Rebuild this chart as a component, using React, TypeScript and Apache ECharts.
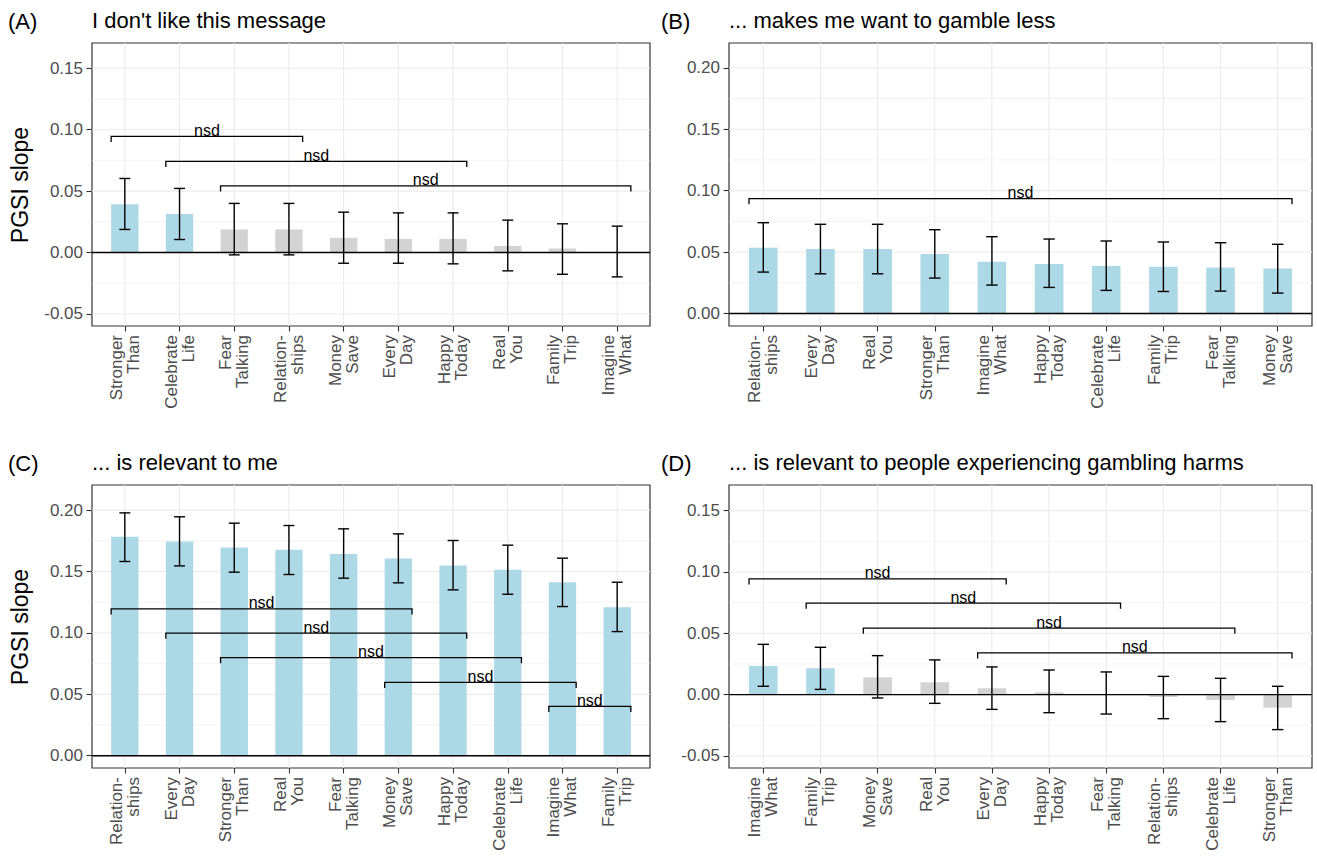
import React, { useEffect, useRef } from "react";
import * as echarts from "echarts";

// ---------- DATA ----------
const A_CATEGORIES = ["Stronger\nThan", "Celebrate\nLife", "Fear\nTalking", "Relation-\nships", "Money\nSave", "Every\nDay", "Happy\nToday", "Real\nYou", "Family\nTrip", "Imagine\nWhat"];
const A_VALUES = [0.0394, 0.0313, 0.0188, 0.0188, 0.012, 0.0111, 0.0111, 0.0054, 0.0033, 0.0];
const A_LOWER = [0.0188, 0.0106, -0.0019, -0.0019, -0.0087, -0.0087, -0.0092, -0.0149, -0.0177, -0.0198];
const A_UPPER = [0.0603, 0.0522, 0.04, 0.04, 0.0329, 0.0323, 0.0323, 0.0264, 0.0234, 0.0215];
const A_SIGNIFICANT = [true, true, false, false, false, false, false, false, false, false];
const A_BRACKETS = [[0.75, 4.25, 0.0946], [1.75, 7.25, 0.0742], [2.75, 10.25, 0.0542]];

const B_CATEGORIES = ["Relation-\nships", "Every\nDay", "Real\nYou", "Stronger\nThan", "Imagine\nWhat", "Happy\nToday", "Celebrate\nLife", "Family\nTrip", "Fear\nTalking", "Money\nSave"];
const B_VALUES = [0.0535, 0.0524, 0.0524, 0.0484, 0.0421, 0.0402, 0.0386, 0.038, 0.0375, 0.0367];
const B_LOWER = [0.0337, 0.0323, 0.0323, 0.0288, 0.0231, 0.0212, 0.0188, 0.0179, 0.0182, 0.0166];
const B_UPPER = [0.0739, 0.0726, 0.0726, 0.0682, 0.0625, 0.0606, 0.059, 0.0582, 0.0576, 0.0563];
const B_SIGNIFICANT = [true, true, true, true, true, true, true, true, true, true];
const B_BRACKETS = [[0.75, 10.25, 0.0935]];

const C_CATEGORIES = ["Relation-\nships", "Every\nDay", "Stronger\nThan", "Real\nYou", "Fear\nTalking", "Money\nSave", "Happy\nToday", "Celebrate\nLife", "Imagine\nWhat", "Family\nTrip"];
const C_VALUES = [0.1783, 0.1745, 0.1696, 0.1677, 0.1644, 0.1606, 0.1549, 0.1514, 0.1413, 0.1209];
const C_LOWER = [0.1582, 0.1546, 0.1495, 0.1476, 0.1446, 0.1408, 0.1351, 0.1315, 0.1215, 0.1011];
const C_UPPER = [0.1978, 0.1946, 0.1894, 0.1875, 0.1848, 0.1807, 0.1753, 0.1715, 0.1609, 0.1413];
const C_SIGNIFICANT = [true, true, true, true, true, true, true, true, true, true];
const C_BRACKETS = [[0.75, 6.25, 0.1196], [1.75, 7.25, 0.0998], [2.75, 8.25, 0.0799], [5.75, 9.25, 0.0598], [8.75, 10.25, 0.0402]];

const D_CATEGORIES = ["Imagine\nWhat", "Family\nTrip", "Money\nSave", "Real\nYou", "Every\nDay", "Happy\nToday", "Fear\nTalking", "Relation-\nships", "Celebrate\nLife", "Stronger\nThan"];
const D_VALUES = [0.0234, 0.0215, 0.0141, 0.0101, 0.0052, 0.0019, 0.0005, -0.0019, -0.0043, -0.0106];
const D_LOWER = [0.0068, 0.0043, -0.0027, -0.0071, -0.012, -0.0147, -0.0158, -0.0196, -0.022, -0.0285];
const D_UPPER = [0.041, 0.0386, 0.0318, 0.0283, 0.0226, 0.0201, 0.0185, 0.0149, 0.0133, 0.0068];
const D_SIGNIFICANT = [true, true, false, false, false, false, false, false, false, false];
const D_BRACKETS = [[0.75, 5.25, 0.0944], [1.75, 7.25, 0.0746], [2.75, 9.25, 0.0543], [4.75, 10.25, 0.0341]];

const TICKS_LOW = [-0.05, 0, 0.05, 0.1, 0.15];
const MINOR_LOW = [-0.025, 0.025, 0.075, 0.125];
const TICKS_HIGH = [0, 0.05, 0.1, 0.15, 0.2];
const MINOR_HIGH = [0.025, 0.075, 0.125, 0.175];

const TAGS = ["(A)", "(B)", "(C)", "(D)"];
const TITLES = ["I don't like this message", "... makes me want to gamble less", "... is relevant to me", "... is relevant to people experiencing gambling harms"];
const Y_NAME = "PGSI slope";
const BRACKET_LABEL = "nsd";

// ---------- STYLE / LAYOUT ----------
const FONT = '"Liberation Sans", Arial, Helvetica, sans-serif';
const BLUE = "#ADD8E6";
const GREY = "#D3D3D3";
const GRID_COLOR = "#EBEBEB";
const FRAME_COLOR = "#333333";
const AXIS_TEXT = "#4D4D4D";
const X_MIN = -0.6;
const X_MAX = 9.6;
const TIP = 0.0046;

const LAYOUT = [
  { left: 92, top: 43, width: 558, height: 283, yMin: -0.0598, yMax: 0.1706, tagX: 8, titleX: 92, textY: 20, nameY: 185 },
  { left: 729, top: 43, width: 583, height: 283, yMin: -0.0102, yMax: 0.2202, tagX: 661, titleX: 729, textY: 20, nameY: 0 },
  { left: 92, top: 485, width: 558, height: 283, yMin: -0.0100, yMax: 0.2205, tagX: 8, titleX: 92, textY: 462, nameY: 627 },
  { left: 729, top: 485, width: 583, height: 283, yMin: -0.0598, yMax: 0.1709, tagX: 661, titleX: 729, textY: 462, nameY: 0 },
];

const PANELS = [
  { cats: A_CATEGORIES, vals: A_VALUES, lo: A_LOWER, hi: A_UPPER, sig: A_SIGNIFICANT, brackets: A_BRACKETS, ticks: TICKS_LOW, minor: MINOR_LOW, yName: true },
  { cats: B_CATEGORIES, vals: B_VALUES, lo: B_LOWER, hi: B_UPPER, sig: B_SIGNIFICANT, brackets: B_BRACKETS, ticks: TICKS_HIGH, minor: MINOR_HIGH, yName: false },
  { cats: C_CATEGORIES, vals: C_VALUES, lo: C_LOWER, hi: C_UPPER, sig: C_SIGNIFICANT, brackets: C_BRACKETS, ticks: TICKS_HIGH, minor: MINOR_HIGH, yName: true },
  { cats: D_CATEGORIES, vals: D_VALUES, lo: D_LOWER, hi: D_UPPER, sig: D_SIGNIFICANT, brackets: D_BRACKETS, ticks: TICKS_LOW, minor: MINOR_LOW, yName: false },
];

function buildOption() {
  const grid: any[] = [];
  const xAxis: any[] = [];
  const yAxis: any[] = [];
  const series: any[] = [];
  const graphic: any[] = [];
  const idx = [0, 1, 2, 3, 4, 5, 6, 7, 8, 9];

  PANELS.forEach((p, k) => {
    const L = LAYOUT[k];
    const unit = L.width / (X_MAX - X_MIN);
    grid.push({
      left: L.left, top: L.top, width: L.width, height: L.height,
      show: true, borderColor: FRAME_COLOR, borderWidth: 1.2, backgroundColor: "transparent",
    });
    xAxis.push({
      type: "value", gridIndex: k, min: X_MIN, max: X_MAX,
      splitLine: { show: false },
      axisLine: { show: false, onZero: false },
      axisTick: { show: true, customValues: idx, length: 5.5, lineStyle: { color: FRAME_COLOR, width: 1.1 } },
      axisLabel: {
        show: true, customValues: idx, rotate: 90, margin: 9,
        formatter: (v: number) => p.cats[Math.round(v)] ?? "",
        fontSize: 17, lineHeight: 17, fontFamily: FONT, color: AXIS_TEXT,
      },
    });
    yAxis.push({
      type: "value", gridIndex: k, min: L.yMin, max: L.yMax,
      splitLine: { show: false },
      axisLine: { show: false, onZero: false },
      axisTick: { show: true, customValues: p.ticks, length: 5.5, lineStyle: { color: FRAME_COLOR, width: 1.1 } },
      axisLabel: {
        show: true, customValues: p.ticks, margin: 9,
        formatter: (v: number) => v.toFixed(2),
        fontSize: 17, fontFamily: FONT, color: AXIS_TEXT,
      },
    });

    // vertical grid lines at category centres
    series.push({
      type: "custom", xAxisIndex: k, yAxisIndex: k, z: 1, silent: true,
      data: idx.map((i) => [i, 0]),
      renderItem: (_: any, api: any) => {
        const x = api.value(0);
        const a = api.coord([x, L.yMin]);
        const b = api.coord([x, L.yMax]);
        return { type: "line", shape: { x1: a[0], y1: a[1], x2: b[0], y2: b[1] }, style: { stroke: GRID_COLOR, lineWidth: 1.1 } };
      },
    });
    // horizontal grid lines (major + minor)
    series.push({
      type: "custom", xAxisIndex: k, yAxisIndex: k, z: 1, silent: true,
      data: p.ticks.map((v) => [0, v, 1]).concat(p.minor.map((v) => [0, v, 0])),
      renderItem: (_: any, api: any) => {
        const y = api.value(1);
        const major = api.value(2) === 1;
        const a = api.coord([X_MIN, y]);
        const b = api.coord([X_MAX, y]);
        return { type: "line", shape: { x1: a[0], y1: a[1], x2: b[0], y2: b[1] }, style: { stroke: GRID_COLOR, lineWidth: major ? 1.1 : 0.6 } };
      },
    });
    // bars
    series.push({
      type: "bar", xAxisIndex: k, yAxisIndex: k, z: 2, silent: true,
      barWidth: unit * 0.5,
      data: p.vals.map((v, i) => ({ value: [i, v], itemStyle: { color: p.sig[i] ? BLUE : GREY } })),
    });
    // zero line
    series.push({
      type: "custom", xAxisIndex: k, yAxisIndex: k, z: 3, silent: true,
      data: [[0, 0]],
      renderItem: (_: any, api: any) => {
        const a = api.coord([X_MIN, 0]);
        const b = api.coord([X_MAX, 0]);
        return { type: "line", shape: { x1: a[0], y1: a[1], x2: b[0], y2: b[1] }, style: { stroke: "#000", lineWidth: 1.4 } };
      },
    });
    // error bars
    series.push({
      type: "custom", xAxisIndex: k, yAxisIndex: k, z: 4, silent: true,
      data: p.vals.map((_, i) => [i, p.lo[i], p.hi[i]]),
      renderItem: (_: any, api: any) => {
        const x = api.value(0);
        const pl = api.coord([x, api.value(1)]);
        const ph = api.coord([x, api.value(2)]);
        const w = api.size([0.1, 0])[0];
        const st = { stroke: "#000", lineWidth: 1.4 };
        return {
          type: "group",
          children: [
            { type: "line", shape: { x1: pl[0], y1: pl[1], x2: ph[0], y2: ph[1] }, style: st },
            { type: "line", shape: { x1: ph[0] - w, y1: ph[1], x2: ph[0] + w, y2: ph[1] }, style: st },
            { type: "line", shape: { x1: pl[0] - w, y1: pl[1], x2: pl[0] + w, y2: pl[1] }, style: st },
          ],
        };
      },
    });
    // significance brackets
    series.push({
      type: "custom", xAxisIndex: k, yAxisIndex: k, z: 5, silent: true,
      data: p.brackets.map((b) => [b[0] - 1, b[1] - 1, b[2]]),
      renderItem: (_: any, api: any) => {
        const a = api.coord([api.value(0), api.value(2)]);
        const b = api.coord([api.value(1), api.value(2)]);
        const tip = api.size([0, TIP])[1];
        return {
          type: "group",
          children: [
            {
              type: "polyline",
              shape: { points: [[a[0], a[1] + tip], [a[0], a[1]], [b[0], b[1]], [b[0], b[1] + tip]] },
              style: { stroke: "#000", lineWidth: 1.3, fill: "none" },
            },
            {
              type: "text", x: (a[0] + b[0]) / 2, y: a[1] + 2,
              style: { text: BRACKET_LABEL, fill: "#000", fontSize: 16, fontFamily: FONT, align: "center", verticalAlign: "bottom" },
            },
          ],
        };
      },
    });

    graphic.push({ type: "text", x: L.tagX, y: L.textY + 1, style: { text: TAGS[k], fill: "#000", fontSize: 22, fontFamily: FONT, verticalAlign: "middle", align: "left" } });
    graphic.push({ type: "text", x: L.titleX, y: L.textY, style: { text: TITLES[k], fill: "#000", fontSize: 22, fontFamily: FONT, verticalAlign: "middle", align: "left" } });
    if (p.yName) {
      graphic.push({
        type: "text", x: 20, y: L.nameY, rotation: Math.PI / 2,
        style: { text: Y_NAME, fill: "#000", fontSize: 23, fontFamily: FONT, verticalAlign: "middle", align: "center" },
      });
    }
  });

  return { animation: false, backgroundColor: "#ffffff", grid, xAxis, yAxis, series, graphic };
}

export default function App() {
  const ref = useRef<HTMLDivElement>(null);
  useEffect(() => {
    if (!ref.current) return;
    const chart = echarts.init(ref.current, null, { renderer: "svg" });
    chart.setOption(buildOption() as any);
    return () => chart.dispose();
  }, []);
  return <div ref={ref} style={{ position: "absolute", left: 0, top: 0, width: 1317, height: 857, background: "#fff" }} />;
}
